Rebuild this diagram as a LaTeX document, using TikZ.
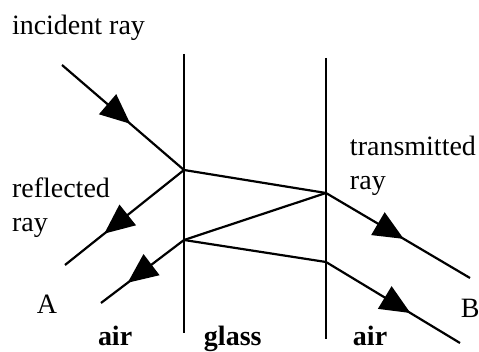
\documentclass[tikz,border=0pt]{standalone}
\usepackage{fontspec}
\setmainfont{Liberation Serif}
\usepackage{tikz}
\usetikzlibrary{arrows.meta, decorations.markings}

\begin{document}
\begin{tikzpicture}[
  x=0.5pt, y=-0.5pt,
  every node/.style={font=\fontsize{14}{17}\selectfont, inner sep=0pt, outer sep=0pt},
  lbl/.style={anchor=base west, align=left},
  medium/.style={font=\fontsize{14}{17}\selectfont\bfseries, anchor=base west},
  face/.style={line width=1.2pt},
  ray/.style={line width=1.1pt, postaction={decorate},
    decoration={markings, mark=at position #1 with {\arrow{Triangle[length=15pt, width=13pt]}}}},
  glassray/.style={line width=1.1pt}
]
\useasboundingbox (0,0) rectangle (479,352);

% Faces of the glass
\coordinate (LT) at (184,54);
\coordinate (LB) at (184,333);
\coordinate (RT) at (326,58);
\coordinate (RB) at (326,339);
\draw[face] (LT) -- (LB);
\draw[face] (RT) -- (RB);

% Points where the rays meet the faces
\coordinate (hit1) at (184,170);
\coordinate (hit2) at (326,193);
\coordinate (hit3) at (184,240);
\coordinate (hit4) at (326,262);

% Free ends of the rays
\coordinate (src) at (62,65);
\coordinate (endA1) at (65,265);
\coordinate (endA2) at (101,303);
\coordinate (endB1) at (470,278);
\coordinate (endB2) at (460,343);

% Rays
\draw[ray=0.56] (src) -- (hit1);
\draw[ray=0.67] (hit1) -- (endA1);
\draw[glassray] (hit1) -- (hit2);
\draw[ray=0.54] (hit2) -- (endB1);
\draw[glassray] (hit2) -- (hit3);
\draw[ray=0.68] (hit3) -- (endA2);
\draw[glassray] (hit3) -- (hit4);
\draw[ray=0.63] (hit4) -- (endB2);

% Labels
\node[lbl] (incident) at (12,35) {incident ray};
\node[lbl] (reflected) at (12,232) {reflected\\ray};
\node[lbl] (transmitted) at (350,190) {transmitted\\ray};
\node[lbl] (labA) at (37,314) {A};
\node[lbl] (labB) at (461,318) {B};
\node[medium] (airL) at (98,346) {air};
\node[medium] (glass) at (204,346) {glass};
\node[medium] (airR) at (353,346) {air};
\end{tikzpicture}
\end{document}
